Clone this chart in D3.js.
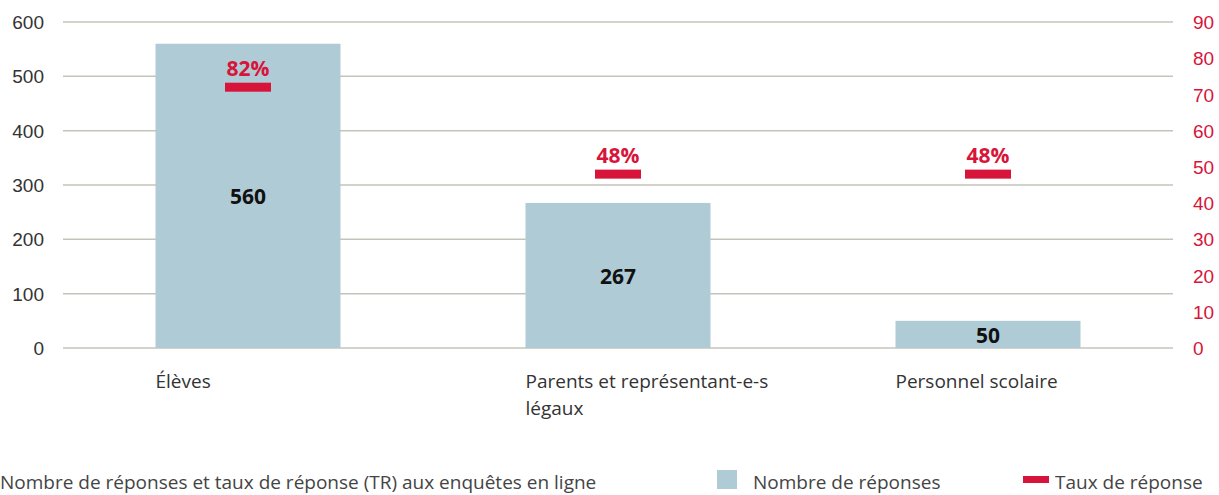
<!DOCTYPE html>
<html lang="fr">
<head>
  <meta charset="UTF-8">
  <title>Nombre de réponses et taux de réponse</title>
  <style>
    body { margin: 0; background: #fff; }
    svg { display: block; font-family: "Open Sans", "Noto Sans", sans-serif; }
    .grid line { stroke: #c4c4bb; stroke-width: 1.5px; }
    .axis-left text { fill: #333; font-size: 19px; }
    .axis-right text { fill: #d7153a; font-size: 19px; }
    .cat { fill: #333; font-size: 19px; }
    .val { fill: #111; font-size: 21px; font-weight: bold; }
    .rate { fill: #d7153a; font-size: 21px; font-weight: bold; }
    .foot { fill: #444; font-size: 19px; }
  </style>
</head>
<body>
  <svg id="chart" width="1219" height="495"></svg>

  <script src="https://d3js.org/d3.v7.min.js"></script>
  <script>
    // data
    const categories = ["Élèves", "Parents et représentant-e-s légaux", "Personnel scolaire"];
    const categoryLines = [["Élèves"], ["Parents et représentant-e-s", "légaux"], ["Personnel scolaire"]];
    const responses = [560, 267, 50];
    const rateValues = [72, 48, 48];         // marker position as drawn (right axis)
    const rateLabels = ["82%", "48%", "48%"];
    const leftTicks = [0, 100, 200, 300, 400, 500, 600];
    const rightTicks = [0, 10, 20, 30, 40, 50, 60, 70, 80, 90];

    const barColor = "#afcbd6";
    const red = "#d7153a";

    const svg = d3.select("#chart");
    const plotLeft = 63, plotRight = 1173, plotTop = 22, plotBottom = 348;

    const x = d3.scaleBand()
                .domain(categories)
                .range([plotLeft, plotRight])
                .paddingInner(0.5)
                .paddingOuter(0.25);

    const yL = d3.scaleLinear().domain([0, 600]).range([plotBottom, plotTop]);
    const yR = d3.scaleLinear().domain([0, 90]).range([plotBottom, plotTop]);

    // gridlines (left ticks only)
    svg.append("g")
       .attr("class", "grid")
       .selectAll("line")
       .data(leftTicks)
       .enter().append("line")
       .attr("x1", plotLeft)
       .attr("x2", plotRight)
       .attr("y1", d => yL(d))
       .attr("y2", d => yL(d));

    // left axis
    const axL = svg.append("g")
       .attr("class", "axis-left")
       .attr("transform", `translate(${plotLeft - 19},0)`)
       .call(d3.axisLeft(yL).tickValues(leftTicks).tickSize(0).tickPadding(0));
    axL.select(".domain").remove();
    axL.selectAll("text").attr("dy", "0.35em");

    // right axis
    const axR = svg.append("g")
       .attr("class", "axis-right")
       .attr("transform", `translate(${plotRight + 20},0)`)
       .call(d3.axisRight(yR).tickValues(rightTicks).tickSize(0).tickPadding(0));
    axR.select(".domain").remove();
    axR.selectAll("text").attr("dy", "0.35em");

    // bars
    svg.append("g")
       .selectAll("rect")
       .data(responses)
       .enter().append("rect")
       .attr("x", (d, i) => x(categories[i]))
       .attr("y", d => yL(d))
       .attr("width", x.bandwidth())
       .attr("height", d => yL(0) - yL(d))
       .attr("fill", barColor);

    // bar value labels
    svg.append("g")
       .selectAll("text")
       .data(responses)
       .enter().append("text")
       .attr("class", "val")
       .attr("text-anchor", "middle")
       .attr("x", (d, i) => x(categories[i]) + x.bandwidth() / 2)
       .attr("y", d => (yL(d) + yL(0)) / 2 + 1)
       .attr("dy", "0.35em")
       .text(d => d);

    // rate markers
    const markW = 46, markH = 9;
    svg.append("g")
       .selectAll("rect")
       .data(rateValues)
       .enter().append("rect")
       .attr("x", (d, i) => x(categories[i]) + x.bandwidth() / 2 - markW / 2)
       .attr("y", d => yR(d) - markH / 2)
       .attr("width", markW)
       .attr("height", markH)
       .attr("fill", red);

    svg.append("g")
       .selectAll("text")
       .data(rateValues)
       .enter().append("text")
       .attr("class", "rate")
       .attr("text-anchor", "middle")
       .attr("x", (d, i) => x(categories[i]) + x.bandwidth() / 2)
       .attr("y", d => yR(d) - markH / 2 - 7)
       .text((d, i) => rateLabels[i]);

    // category labels
    const cats = svg.append("g")
       .selectAll("text")
       .data(categoryLines)
       .enter().append("text")
       .attr("class", "cat")
       .attr("x", (d, i) => x(categories[i]))
       .attr("y", 388);
    cats.selectAll("tspan")
       .data(d => d)
       .enter().append("tspan")
       .attr("x", function() { return this.parentNode.getAttribute("x"); })
       .attr("dy", (d, i) => i === 0 ? 0 : 27)
       .text(d => d);

    // footer title
    svg.append("text")
       .attr("class", "foot")
       .attr("x", 0)
       .attr("y", 489)
       .text("Nombre de réponses et taux de réponse (TR) aux enquêtes en ligne");

    // legend
    svg.append("rect").attr("x", 717).attr("y", 470).attr("width", 20).attr("height", 19).attr("fill", barColor);
    svg.append("text").attr("class", "foot").attr("x", 753).attr("y", 489).text("Nombre de réponses");
    svg.append("rect").attr("x", 1023).attr("y", 476).attr("width", 26).attr("height", 7).attr("fill", red);
    svg.append("text").attr("class", "foot").attr("x", 1055).attr("y", 489).text("Taux de réponse");
  </script>
</body>
</html>
